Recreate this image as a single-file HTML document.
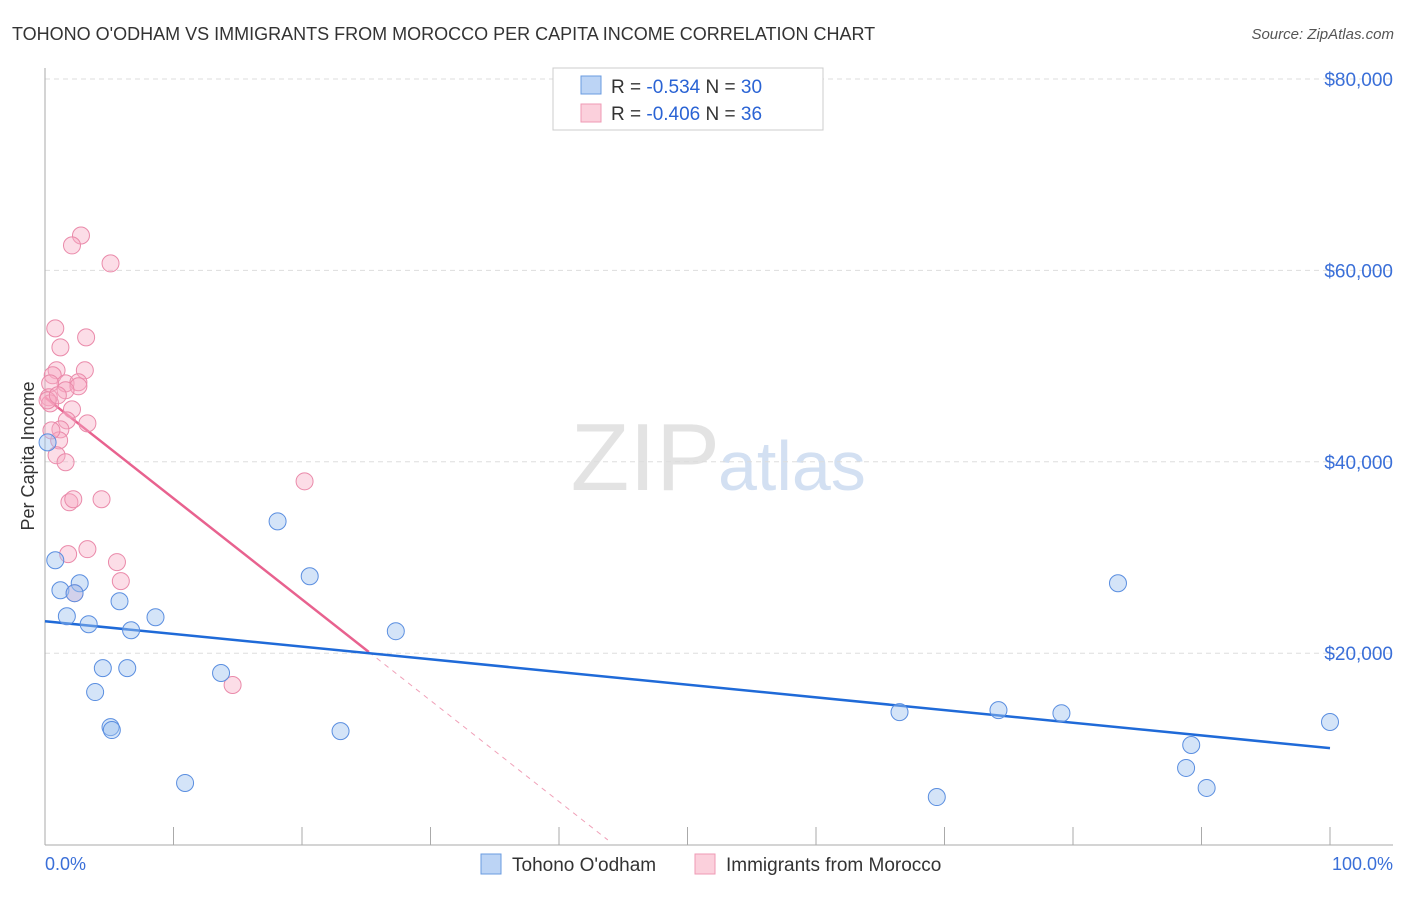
<!DOCTYPE html>
<html><head><meta charset="utf-8"><style>
body{margin:0;background:#fff;font-family:"Liberation Sans",sans-serif;}
svg text{font-family:"Liberation Sans",sans-serif;}
</style></head><body>
<svg id="chart" width="1406" height="892" xmlns="http://www.w3.org/2000/svg">
<text x="12" y="40" font-size="18" fill="#333">TOHONO O'ODHAM VS IMMIGRANTS FROM MOROCCO PER CAPITA INCOME CORRELATION CHART</text>
<text x="1394" y="39" font-size="15" fill="#555" text-anchor="end" font-style="italic">Source: ZipAtlas.com</text>
<text x="720" y="490" font-size="96" fill="#ddd" text-anchor="end" font-family="Liberation Serif" opacity="0.8">ZIP</text>
<text x="718" y="490" font-size="70" fill="#c9d9f0" opacity="0.8">atlas</text>
<g id="grid"></g>
<g id="axes"></g>
<g id="lines"></g>
<g id="points"></g>
<text transform="translate(34,456) rotate(-90)" font-size="18" fill="#333" text-anchor="middle">Per Capita Income</text>
<text x="45" y="870" font-size="18" fill="#3a6fd8">0.0%</text>
<text x="1393" y="870" font-size="18" fill="#3a6fd8" text-anchor="end">100.0%</text>
<g>
<rect x="553" y="68" width="270" height="62" fill="#fff" stroke="#ccc"/>
<rect x="581" y="76" width="20" height="18" fill="#bcd4f5" stroke="#6a9be0"/>
<text x="611" y="93" font-size="19" fill="#333">R = <tspan fill="#2a63d4">-0.534</tspan>   N = <tspan fill="#2a63d4">30</tspan></text>
<rect x="581" y="104" width="20" height="18" fill="#fbd0dc" stroke="#ef9ab4"/>
<text x="611" y="120" font-size="19" fill="#333">R = <tspan fill="#2a63d4">-0.406</tspan>   N = <tspan fill="#2a63d4">36</tspan></text>
</g>
<g>
<rect x="481" y="854" width="20" height="20" fill="#bcd4f5" stroke="#6a9be0"/>
<text x="512" y="871" font-size="19" fill="#333">Tohono O'odham</text></g>
<g>
<rect x="695" y="854" width="20" height="20" fill="#fbd0dc" stroke="#ef9ab4"/>
<text x="726" y="871" font-size="19" fill="#333">Immigrants from Morocco</text></g>
</svg>
<script>
const blueX=[0.8,1.2,1.7,2.7,2.3,3.4,5.8,6.7,8.6,4.5,6.4,3.9,5.1,5.2,10.9,13.7,18.1,20.6,23.0,27.3,66.5,69.4,74.2,79.1,83.5,88.8,89.2,90.4,100,0.2];
const blueY=[29710,26580,23860,27310,26270,23030,25430,22400,23760,18440,18440,15940,12280,11970,6440,17930,33780,28040,11860,22300,13840,4970,14050,13730,27310,8010,10410,5920,12810,42030];
const pinkX=[2.8,2.1,5.1,0.8,3.2,1.2,0.9,3.1,0.6,1.6,2.6,2.6,0.4,1.6,0.3,0.4,2.1,1.7,3.3,1.2,1.1,0.9,1.6,1.9,2.2,4.4,1.8,3.3,5.6,5.9,2.3,14.6,20.2,0.2,0.5,1.0];
const pinkY=[63650,62610,60730,53940,53000,51960,49560,49560,49040,48200,48310,47890,48200,47470,46740,46110,45480,44330,44020,43390,42240,40680,39950,35770,36090,36090,30350,30870,29520,27530,26280,16680,37960,46420,43280,46950];
const yTicks=[20000,40000,60000,80000];
const yTickLabels=["$20,000","$40,000","$60,000","$80,000"];
const blueTrend=[23340,10080]; // value at 0% and 100%
const pinkTrend=[46740,-1056]; // intercept, slope per %
const pinkSolidEnd=25.2, pinkDashEnd=43.8;
const NS="http://www.w3.org/2000/svg";
const sx=v=>45+v*12.85;
const sy=v=>844.6-v/20000*191.4;
function mk(t,a,p){const e=document.createElementNS(NS,t);for(const k in a)e.setAttribute(k,a[k]);p.appendChild(e);return e;}
const grid=document.getElementById('grid'),axes=document.getElementById('axes'),lines=document.getElementById('lines'),pts=document.getElementById('points');
yTicks.forEach((t,i)=>{
 const l=mk('line',{x1:45,x2:1393,y1:sy(t),y2:sy(t),stroke:'#ddd','stroke-dasharray':'5,4'},grid);
 
 
 const tx=mk('text',{x:1393,y:sy(t)+7,'font-size':19,fill:'#3a6fd8','text-anchor':'end'},grid);
 tx.textContent=yTickLabels[i];
 
 
});
const l0=mk('line',{x1:45,x2:45,y1:68,y2:845,stroke:'#aaa'},axes);


const l1=mk('line',{x1:45,x2:1393,y1:845,y2:845,stroke:'#aaa'},axes);


for(let p=0;p<=100;p+=10){
 const t=mk('line',{x1:sx(p),x2:sx(p),y1:827,y2:845,stroke:'#aaa'},axes);
 
 
}
const pf=x=>pinkTrend[0]+pinkTrend[1]*x;
const pd=mk('line',{x1:sx(pinkSolidEnd),y1:sy(pf(pinkSolidEnd)),x2:sx(pinkDashEnd),y2:sy(pf(pinkDashEnd)),stroke:'#f0a0b8','stroke-dasharray':'5,5','stroke-width':1},lines);


const ps=mk('line',{x1:sx(0),y1:sy(pf(0)),x2:sx(pinkSolidEnd),y2:sy(pf(pinkSolidEnd)),stroke:'#e8628f','stroke-width':2.5},lines);


const bl=mk('line',{x1:sx(0),y1:sy(blueTrend[0]),x2:sx(100),y2:sy(blueTrend[1]),stroke:'#1f6ad8','stroke-width':2.5},lines);


pinkX.forEach((x,i)=>{
 const c=mk('circle',{cx:sx(x),cy:sy(pinkY[i]),r:8.5,fill:'rgba(247,170,195,0.4)',stroke:'#ea8aaa','stroke-width':1},pts);
 
 
});
blueX.forEach((x,i)=>{
 const c=mk('circle',{cx:sx(x),cy:sy(blueY[i]),r:8.5,fill:'rgba(160,195,240,0.45)',stroke:'#5a8ee0','stroke-width':1},pts);
 
 
});
</script>
</body></html>
